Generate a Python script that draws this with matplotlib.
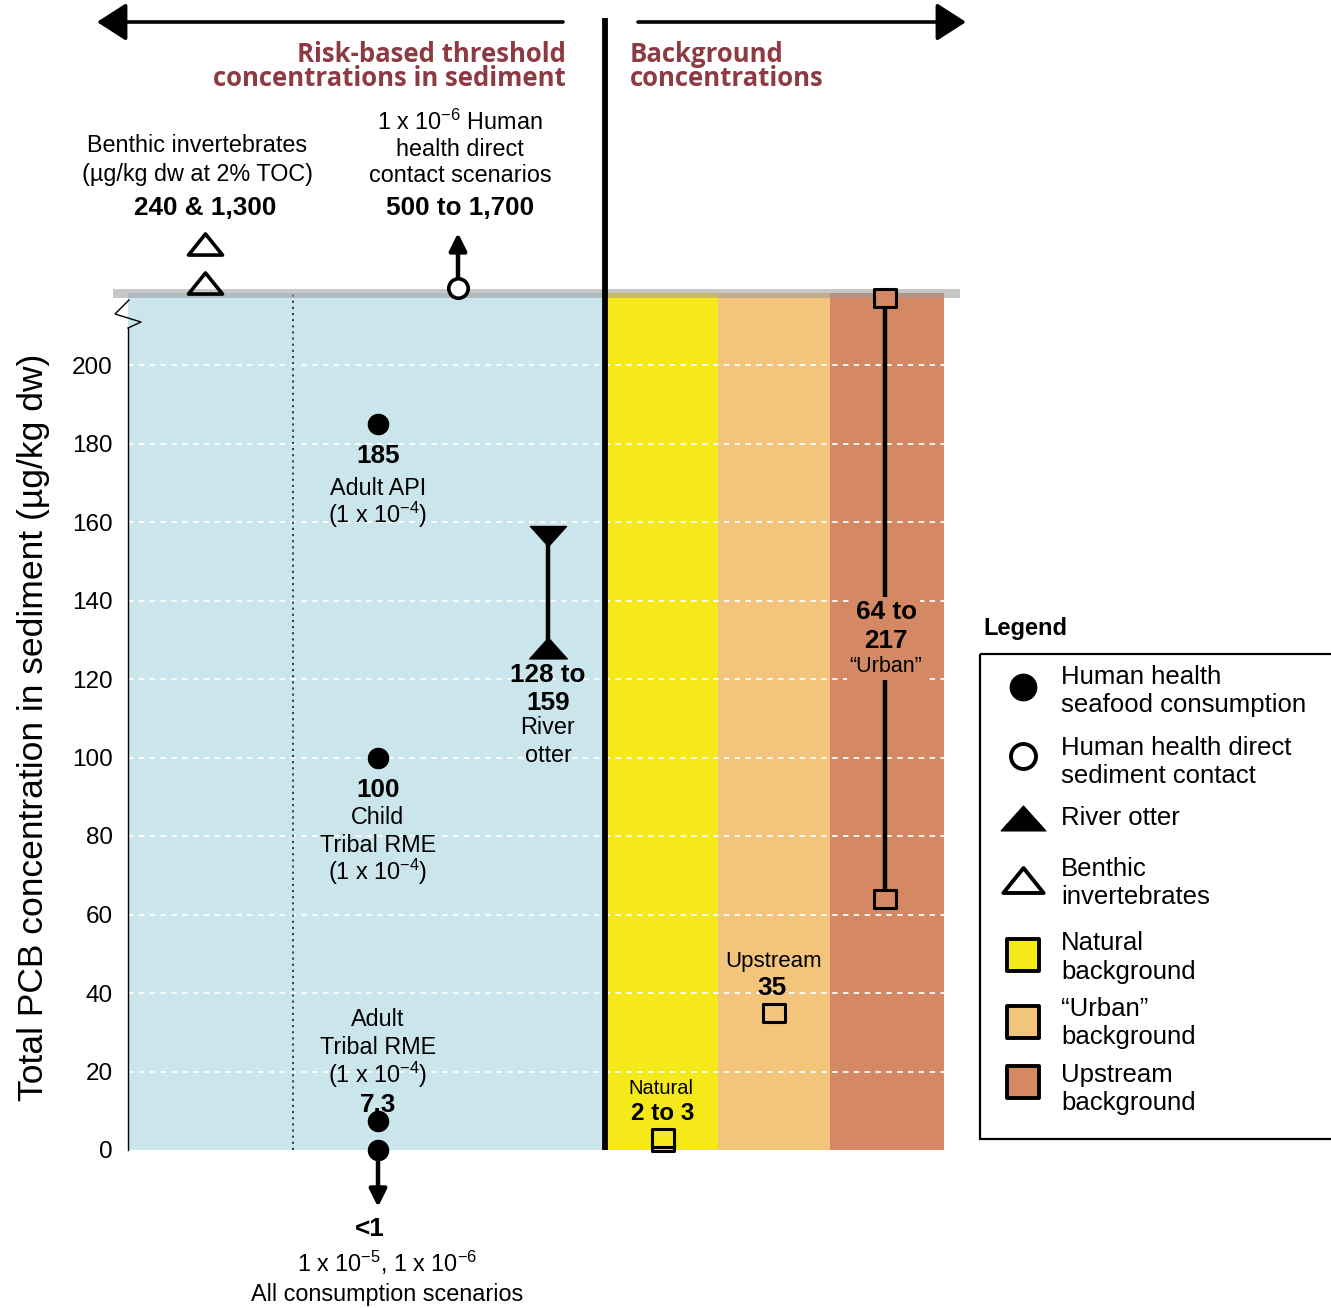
import matplotlib
matplotlib.use("Agg")
import matplotlib.pyplot as plt
from matplotlib.path import Path
from matplotlib.patches import Rectangle, FancyArrowPatch
from matplotlib.transforms import blended_transform_factory

plt.rcParams["font.family"] = ["Liberation Sans", "DejaVu Sans"]
plt.rcParams["mathtext.fontset"] = "custom"
plt.rcParams["mathtext.rm"] = "Liberation Sans"
plt.rcParams["mathtext.bf"] = "Liberation Sans:bold"
plt.rcParams["mathtext.default"] = "regular"

# ---- values (µg/kg dw) ----
y_ticks = [0, 20, 40, 60, 80, 100, 120, 140, 160, 180, 200]
seafood_values = [185, 100, 7.3]          # human health seafood consumption, 1e-4
seafood_below = 0                         # "<1" for 1e-5 / 1e-6 scenarios, drawn at the floor
otter_range = [128, 159]
natural_range = [2, 3]
urban_value = 35
upstream_range = [64, 217]
benthic_values = ["240", "1,300"]         # off-scale
direct_contact_range = ["500", "1,700"]   # off-scale

column_names = ["Natural background", "\u201cUrban\u201d background", "Upstream background"]
column_colors = ["#f6e91a", "#f2c47c", "#d48863"]
blue = "#cae5ec"
title_red = "#8e3a42"

# ---- figure & axes (x in layout units) ----
W, H = 1331, 1308
fig = plt.figure(figsize=(W / 100, H / 100), dpi=100)
fig.patch.set_facecolor("white")
ax = fig.add_axes([128 / W, 1 - 1150 / H, 816 / W, 857 / H])
YTOP = 857 / 3.925
ax.set_xlim(0, 816)
ax.set_ylim(0, YTOP)
for s in ax.spines.values():
    s.set_visible(False)
ax.set_xticks([])
ax.set_yticks(y_ticks)
ax.tick_params(axis="y", length=0, pad=11, labelsize=17.5)
ax.set_ylabel("Total PCB concentration in sediment (\u00b5g/kg dw)", fontsize=25.5)
ax.yaxis.set_label_coords((50 - 128) / 816, (1150 - 727) / 857)

bt = blended_transform_factory(ax.transData, ax.transAxes)

# column backgrounds
x_blue = (0, 479)
x_cols = [(479, 590), (590, 702), (702, 816)]
ax.axvspan(*x_blue, color=blue, lw=0, zorder=0)
for (a, b), c in zip(x_cols, column_colors):
    ax.axvspan(a, b, color=c, lw=0, zorder=0)

# white dashed grid
ax.hlines(y_ticks[1:], 0, 816, colors="white", linestyles=(0, (3, 3)), lw=1.3, zorder=1)

# dotted separator in the risk panel
ax.axvline(165, color="#333333", ls=(0, (1.2, 2.2)), lw=1.3, zorder=2)

# y axis line with break mark
ax.plot([0, 0], [0, (1150 - 328) / 3.925], color="k", lw=1.0, zorder=3, clip_on=False)
zx = [0, 13, -13, 1]
zy = [328, 322, 314, 300]
ax.plot(zx, [(1150 - v) / 3.925 for v in zy], color="k", lw=1.0, zorder=3, clip_on=False)

# top gray band
ax.add_patch(Rectangle((-15, (1150 - 298) / 857), 847, 9 / 857, transform=bt,
                       facecolor="#9a9a9a", alpha=0.55, lw=0, clip_on=False, zorder=4))

# main divider
ax.plot([477, 477], [0, (1150 - 18) / 857], transform=bt, color="k", lw=4.2,
        clip_on=False, zorder=6, solid_capstyle="butt")

# ---- marker shapes ----
rect_marker = Path([(-1.2, -1), (1.2, -1), (1.2, 1), (-1.2, 1), (-1.2, -1)],
                   [Path.MOVETO, Path.LINETO, Path.LINETO, Path.LINETO, Path.CLOSEPOLY])
square_marker = Path([(-1, -1), (1, -1), (1, 1), (-1, 1), (-1, -1)], rect_marker.codes)
tri_down_top = Path([(-0.9, 0), (0.9, 0), (0, -1), (-0.9, 0)],
                    [Path.MOVETO, Path.LINETO, Path.LINETO, Path.CLOSEPOLY])
tri_up = Path([(-0.9, -0.5), (0.9, -0.5), (0, 0.5), (-0.9, -0.5)],
              [Path.MOVETO, Path.LINETO, Path.LINETO, Path.CLOSEPOLY])
tri_open = Path([(-1, -0.62), (1, -0.62), (0, 0.62), (-1, -0.62)],
                [Path.MOVETO, Path.LINETO, Path.LINETO, Path.CLOSEPOLY])

# ---- seafood consumption points ----
x_sea = 250
ax.plot([x_sea] * len(seafood_values), seafood_values, "o", color="k", ms=14.5,
        zorder=7, clip_on=False)
ax.plot([x_sea], [seafood_below], "o", color="k", ms=14.5, zorder=7, clip_on=False)
ax.annotate("", xy=(x_sea, -14.5), xytext=(x_sea, seafood_below),
            arrowprops=dict(arrowstyle="-|>", lw=3.2, color="k", mutation_scale=26,
                            shrinkA=0, shrinkB=0), annotation_clip=False, zorder=6)

# ---- river otter range ----
x_ot = 420
ax.plot([x_ot, x_ot], otter_range, color="k", lw=3.2, zorder=7, solid_capstyle="butt")
ax.plot([x_ot], [otter_range[1]], marker=tri_down_top, color="k", ms=28.8, ls="none", zorder=7)
ax.plot([x_ot], [otter_range[0]], marker=tri_up, color="k", ms=27, ls="none", zorder=7)

# ---- background markers ----
x_nat, x_urb, x_up = 535, 646, 757
ax.plot([x_nat] * 2, natural_range, marker=rect_marker, ms=16, mfc=column_colors[0],
        mec="k", mew=2.2, ls="none", zorder=7, clip_on=False)
ax.plot([x_urb], [urban_value], marker=rect_marker, ms=16, mfc=column_colors[1],
        mec="k", mew=2.2, ls="none", zorder=7)
ax.plot([x_up, x_up], upstream_range, color="k", lw=3.2, zorder=7, clip_on=False)
ax.plot([x_up] * 2, upstream_range, marker=rect_marker, ms=16, mfc=column_colors[2],
        mec="k", mew=2.2, ls="none", zorder=8, clip_on=False)

# ---- off-scale markers above the band ----
x_ben, x_dc = 77, 330
ax.plot([x_ben, x_ben], [(1150 - 283) / 857, (1150 - 244) / 857], transform=bt,
        marker=tri_open, ms=24.5, mfc="none", mec="k", mew=2.6, ls="none",
        clip_on=False, zorder=8)
ax.annotate("", xy=(x_dc, (1150 - 233) / 857), xytext=(x_dc, (1150 - 288) / 857),
            xycoords=bt, textcoords=bt,
            arrowprops=dict(arrowstyle="-|>", lw=3.2, color="k", mutation_scale=26,
                            shrinkA=0, shrinkB=0), annotation_clip=False, zorder=7)
ax.plot([x_dc], [(1150 - 288) / 857], transform=bt, marker="o", ms=14, mfc="white",
        mec="k", mew=2.6, clip_on=False, zorder=9)


# ---- text helpers ----
REG, VAL = 16.8, 18.8


def dy(py):
    return (1150 - py) / 3.925


def t(x, py, s, size=REG, weight="normal", **kw):
    ax.text(x, dy(py), s, fontsize=size, fontweight=weight, ha=kw.pop("ha", "center"),
            va="center", zorder=9, clip_on=False, **kw)


def ft(px, py, s, size=REG, weight="normal", ha="center", **kw):
    fig.text(px / W, 1 - py / H, s, fontsize=size, fontweight=weight, ha=ha,
             va="center", **kw)


sup = lambda n: "$^{-%d}$" % n

# seafood labels
t(x_sea, 456, f"{seafood_values[0]:g}", VAL, "bold")
t(x_sea, 488, "Adult API")
t(x_sea, 515, "(1 x 10" + sup(4) + ")")
t(x_sea, 790, f"{seafood_values[1]:g}", VAL, "bold")
t(x_sea, 817, "Child")
t(x_sea, 845, "Tribal RME")
t(x_sea, 872, "(1 x 10" + sup(4) + ")")
t(x_sea, 1019, "Adult")
t(x_sea, 1047, "Tribal RME")
t(x_sea, 1075, "(1 x 10" + sup(4) + ")")
t(x_sea, 1105, f"{seafood_values[2]:g}", VAL, "bold")
t(x_sea - 8, 1229, "<1", VAL, "bold")
t(x_sea + 9, 1263, "1 x 10" + sup(5) + ", 1 x 10" + sup(6))
t(x_sea + 9, 1294, "All consumption scenarios")

# otter labels
t(x_ot, 675, f"{otter_range[0]} to", VAL, "bold")
t(x_ot, 703, f"{otter_range[1]}", VAL, "bold")
t(x_ot, 728, "River")
t(x_ot, 756, "otter")

# background labels
t(x_nat - 2, 1088, "Natural", 14.5)
t(x_nat, 1114, f"{natural_range[0]} to {natural_range[1]}", 17.5, "bold")
t(x_urb, 962, "Upstream", 16)
t(x_urb - 2, 988, f"{urban_value}", VAL, "bold")
bb = dict(boxstyle="square,pad=0.12", facecolor=column_colors[2], edgecolor="none")
t(x_up + 1, 612, f"{upstream_range[0]} to", VAL, "bold", bbox=bb)
t(x_up + 1, 641, f"{upstream_range[1]}", VAL, "bold", bbox=bb)
t(x_up + 1, 667, "\u201cUrban\u201d", 15.5, bbox=bb)

# labels above the plot
ft(197, 146, "Benthic invertebrates")
ft(197, 174, "(\u00b5g/kg dw at 2% TOC)")
ft(205, 208, f"{benthic_values[0]} & {benthic_values[1]}", VAL, "bold")
ft(460, 122, "1 x 10" + sup(6) + " Human")
ft(460, 149, "health direct")
ft(460, 175, "contact scenarios")
ft(460, 208, f"{direct_contact_range[0]} to {direct_contact_range[1]}", VAL, "bold")

title_font = ["Open Sans", "DejaVu Sans"]
TS = 18.5
ft(566, 54, "Risk-based threshold", TS, "bold", ha="right", color=title_red, family=title_font)
ft(566, 79, "concentrations in sediment", TS, "bold", ha="right", color=title_red, family=title_font)
ft(630, 54, "Background", TS, "bold", ha="left", color=title_red, family=title_font)
ft(630, 79, "concentrations", TS, "bold", ha="left", color=title_red, family=title_font)

# top direction arrows
for x0, x1 in [(563, 97), (638, 966)]:
    fig.add_artist(FancyArrowPatch((x0 / W, 1 - 22 / H), (x1 / W, 1 - 22 / H),
                                   transform=fig.transFigure,
                                   arrowstyle="-|>,head_length=1.4,head_width=0.9",
                                   mutation_scale=13, lw=2.6, color="k",
                                   shrinkA=0, shrinkB=0))

# ---- legend panel ----
lax = fig.add_axes([980 / W, 1 - 1139 / H, 351 / W, 485 / H])
lax.set_xlim(980, 1331)
lax.set_ylim(1139, 654)
lax.axis("off")
lax.add_patch(Rectangle((980, 654), 360, 485, facecolor="none", edgecolor="k",
                        lw=1.6, clip_on=False))
ft(983, 629, "Legend", 17, "bold", ha="left")

mx, tx = 1023, 1061
leg_rows = [
    (687, dict(marker="o", ms=19, mfc="k", mec="k"), ["Human health", "seafood consumption"], [677, 705]),
    (756, dict(marker="o", ms=18, mfc="white", mec="k", mew=2.8), ["Human health direct", "sediment contact"], [748, 776]),
    (818, dict(marker=tri_up, ms=32, mfc="k", mec="k"), ["River otter"], [818]),
    (880, dict(marker=tri_open, ms=29, mfc="none", mec="k", mew=2.8), ["Benthic", "invertebrates"], [869, 897]),
    (955, dict(marker=square_marker, ms=22.5, mfc=column_colors[0], mec="k", mew=2.8), column_names[0].split(" ", 1), [943, 972]),
    (1022, dict(marker=square_marker, ms=22.5, mfc=column_colors[1], mec="k", mew=2.8), column_names[1].split(" ", 1), [1009, 1037]),
    (1082, dict(marker=square_marker, ms=22.5, mfc=column_colors[2], mec="k", mew=2.8), column_names[2].split(" ", 1), [1075, 1103]),
]
for my, style, lines, ys in leg_rows:
    lax.plot([mx], [my], ls="none", clip_on=False, **style)
    for s, yy in zip(lines, ys):
        lax.text(tx, yy, s, fontsize=18.5, ha="left", va="center")

fig.savefig("out.png", dpi=100, facecolor="white")
